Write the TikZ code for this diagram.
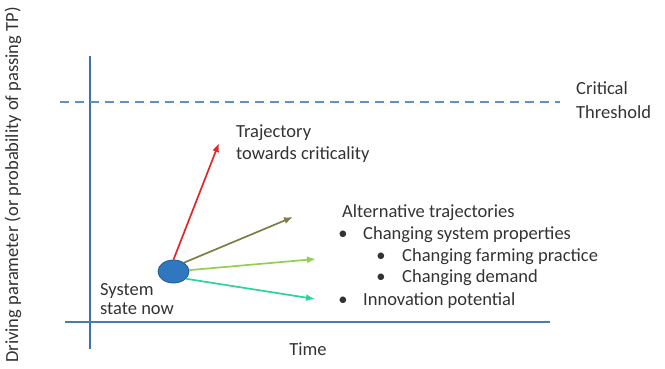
\documentclass[tikz,border=0pt]{standalone}
\usepackage{fontspec}
\setmainfont{Carlito}
\usetikzlibrary{arrows.meta,shapes.geometric}
\definecolor{axisblue}{HTML}{4A7EA8}
\definecolor{vaxisblue}{HTML}{3F72A8}
\definecolor{dashblue}{HTML}{5B93C8}
\definecolor{txt}{HTML}{333333}
\definecolor{arrred}{HTML}{E02828}
\definecolor{arrolive}{HTML}{7E7E44}
\definecolor{arrlgreen}{HTML}{92D050}
\definecolor{arrteal}{HTML}{2CD39A}
\definecolor{ellfill}{HTML}{2F78C0}
\definecolor{elldraw}{HTML}{1F5A94}
\begin{document}
\begin{tikzpicture}[x=1pt,y=-1pt,
  lbl/.style={text=txt,font=\fontsize{18.5}{21}\selectfont,inner sep=0pt,anchor=base west},
  traj/.style={line width=1.7pt,-{Latex[length=9pt,width=7pt]}},
  axis/.style={axisblue,line width=2pt}]
\useasboundingbox (0,0) rectangle (665,369);
% axes
\coordinate (yt) at (90,56);
\coordinate (yb) at (90,349);
\coordinate (xl) at (65,322);
\coordinate (xr) at (550,322);
\draw[vaxisblue,line width=1.4pt] (yt) -- (yb);
\draw[axis] (xl) -- (xr);
% threshold
\coordinate (tl) at (60,102);
\coordinate (tr) at (560,102);
\draw[dashblue,line width=1.4pt,dash pattern=on 9pt off 6pt] (tl) -- (tr);
\node[lbl] (crit1) at (576,95) {Critical};
\node[lbl] (crit2) at (576,118) {Threshold};
% system state
\node[ellipse,draw=elldraw,fill=ellfill,minimum width=31pt,minimum height=23pt,inner sep=0pt,line width=0.8pt] (s) at (173.5,271.5) {};
\coordinate (ered) at (219,143);
\coordinate (eolive) at (293,217);
\coordinate (egreen) at (316,259);
\coordinate (eteal) at (315,299);
\draw[traj,arrred] (s.north) -- (ered);
\draw[traj,arrolive] (s.40) -- (eolive);
\draw[traj,arrlgreen] (s.5) -- (egreen);
\draw[traj,arrteal] (s.-30) -- (eteal);
% labels
\node[lbl] (traj1) at (236,138) {Trajectory};
\node[lbl] (traj2) at (236,160) {towards criticality};
\node[lbl] (sys1) at (100,295) {System};
\node[lbl] (sys2) at (100,314) {state now};
\node[lbl] (alt) at (342,218) {Alternative trajectories};
\node[lbl] (b1) at (363,239) {Changing system properties};
\node[lbl] (b2) at (402,261) {Changing farming practice};
\node[lbl] (b3) at (402,282) {Changing demand};
\node[lbl] (b4) at (363,305) {Innovation potential};
\node[lbl,anchor=base] (d1) at (343,239) {\textbullet};
\node[lbl,anchor=base] (d2) at (381,261) {\textbullet};
\node[lbl,anchor=base] (d3) at (381,282) {\textbullet};
\node[lbl,anchor=base] (d4) at (343,305) {\textbullet};
\node[lbl,anchor=base] (time) at (308,355) {Time};
\node[lbl,anchor=base,rotate=90] (ylbl) at (18,185) {Driving parameter (or probability of passing TP)};
\end{tikzpicture}
\end{document}
